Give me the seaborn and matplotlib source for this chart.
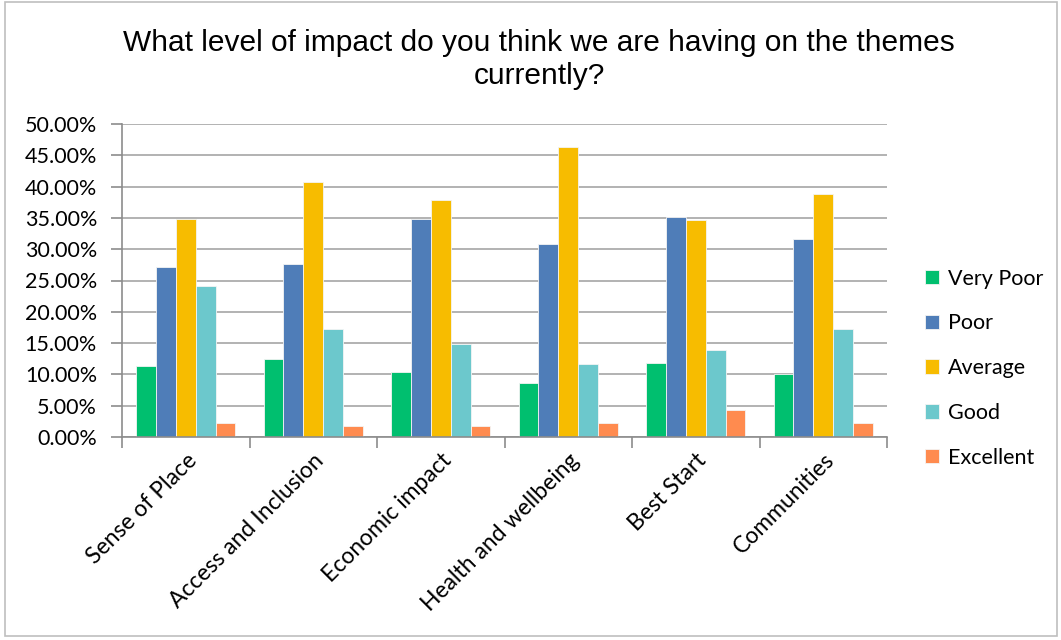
import matplotlib
matplotlib.use("Agg")
import matplotlib.pyplot as plt
from matplotlib.patches import Rectangle
from matplotlib.ticker import FuncFormatter, MultipleLocator, FixedLocator
import seaborn as sns
import pandas as pd

themes = ["Sense of Place", "Access and Inclusion", "Economic impact",
          "Health and wellbeing", "Best Start", "Communities"]
ratings = ["Very Poor", "Poor", "Average", "Good", "Excellent"]

very_poor = [11.3, 12.4, 10.4, 8.7, 11.9, 10.0]
poor = [27.1, 27.7, 34.9, 30.8, 35.1, 31.6]
average = [34.8, 40.7, 37.8, 46.3, 34.7, 38.8]
good = [24.2, 17.2, 14.8, 11.7, 13.9, 17.2]
excellent = [2.2, 1.8, 1.8, 2.3, 4.3, 2.2]

colors = ["#00BF6F", "#4F7DB8", "#F7BC00", "#6CC8CC", "#FF8B4F"]

rows = []
for rating, vals in zip(ratings, [very_poor, poor, average, good, excellent]):
    for theme, v in zip(themes, vals):
        rows.append({"theme": theme, "rating": rating, "share": v})
df = pd.DataFrame(rows)

sns.set_theme(style="white")
plt.rcParams["font.family"] = ["Lato", "DejaVu Sans"]

fig = plt.figure(figsize=(10.61, 6.40), dpi=100)
ax = fig.add_axes([122 / 1061, 1 - 437 / 640, (887 - 122) / 1061, (437 - 124) / 640])

sns.barplot(data=df, x="theme", y="share", hue="rating", order=themes,
            hue_order=ratings, palette=colors, width=0.78, saturation=1,
            ax=ax, legend=True, edgecolor="#F4F4F4", linewidth=0.6)

ax.set_ylim(0, 50)
ax.set_xlim(-0.5, len(themes) - 0.5)
ax.yaxis.set_major_locator(MultipleLocator(5))
ax.yaxis.set_major_formatter(FuncFormatter(lambda v, p: f"{v:.2f}%"))
ax.grid(axis="y", color="#A6A6A6", linewidth=1.2)
ax.set_axisbelow(True)
ax.set_xlabel("")
ax.set_ylabel("")

for side in ["top", "right"]:
    ax.spines[side].set_visible(False)
for side in ["left", "bottom"]:
    ax.spines[side].set_color("#8C8C8C")
    ax.spines[side].set_linewidth(1.2)

ax.tick_params(axis="y", which="major", length=8, color="#8C8C8C", width=1.2,
               labelsize=15.5, labelcolor="#000000", left=True, pad=10)
ax.tick_params(axis="x", which="major", length=0, labelsize=16.5,
               labelcolor="#000000", pad=9)
ax.xaxis.set_minor_locator(FixedLocator([i - 0.5 for i in range(len(themes) + 1)]))
ax.tick_params(axis="x", which="minor", length=8, color="#8C8C8C", width=1.2,
               bottom=True)
plt.setp(ax.get_xticklabels(), rotation=45, ha="right", rotation_mode="anchor")

leg = ax.legend(loc="center left", bbox_to_anchor=(1.024, 0.22), frameon=False,
                fontsize=15.5, labelspacing=1.15, handlelength=0.65,
                handleheight=0.65, handletextpad=0.45)
for t in leg.get_texts():
    t.set_color("#000000")

fig.text(0.508, 0.955, "What level of impact do you think we are having on the themes\ncurrently?",
         ha="center", va="top", fontsize=21.5, family=["Liberation Sans", "DejaVu Sans"],
         linespacing=1.22, color="#000000")

fig.patches.append(Rectangle((5 / 1061, 4 / 640), 1052 / 1061, 634 / 640,
                             transform=fig.transFigure, fill=False,
                             edgecolor="#BFBFBF", linewidth=1.2))

fig.savefig("out.png", dpi=100)
